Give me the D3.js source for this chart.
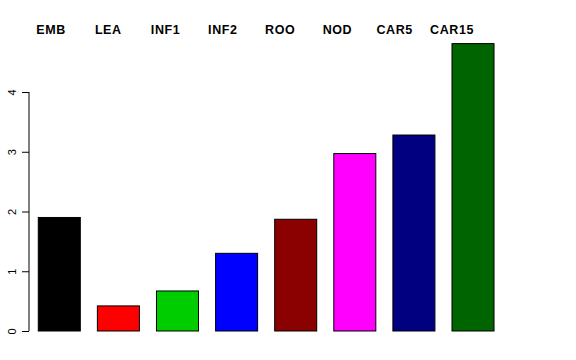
<!DOCTYPE html>
<html>
<head>
<meta charset="utf-8">
<script src="https://cdn.jsdelivr.net/npm/d3@7"></script>
<style>
  body { margin: 0; background: #fff; }
  svg text { font-family: "Liberation Sans", Arial, sans-serif; }
</style>
</head>
<body>
<div id="chart"></div>
<script>
// stages and their values
var stages = ["EMB", "LEA", "INF1", "INF2", "ROO", "NOD", "CAR5", "CAR15"];
var values = [1.90, 0.42, 0.67, 1.30, 1.87, 2.97, 3.28, 4.81];
var barColors = ["#000000", "#ff0000", "#00cd00", "#0000ff", "#8b0000", "#ff00ff", "#000080", "#006400"];
var yTicks = [0, 1, 2, 3, 4];

var width = 576, height = 360;

var svg = d3.select("#chart").append("svg")
  .attr("width", width)
  .attr("height", height);

var x = d3.scaleBand()
  .domain(stages)
  .range([29, 503.3])
  .paddingInner(0.289)
  .paddingOuter(0.157);

var y = d3.scaleLinear()
  .domain([0, 4])
  .range([331, 92]);

// labels sit on their own, slightly tighter, spacing
var xLab = d3.scalePoint()
  .domain(stages)
  .range([51, 452]);

var yAxis = d3.axisLeft(y)
  .tickValues(yTicks)
  .tickSize(7)
  .tickFormat(d3.format("d"));

var gy = svg.append("g")
  .attr("transform", "translate(29,0)")
  .call(yAxis);
gy.select(".domain").attr("d", "M0," + y(0) + "V" + y(4)).attr("stroke", "#000");
gy.selectAll(".tick line").attr("stroke", "#000");
gy.selectAll(".tick text")
  .attr("transform", "rotate(-90)")
  .attr("x", 0)
  .attr("y", -13)
  .attr("dy", "0")
  .attr("text-anchor", "middle")
  .attr("font-size", 11)
  .attr("fill", "#000");

svg.selectAll("rect.bar")
  .data(values).enter()
  .append("rect")
  .attr("class", "bar")
  .attr("x", function(d, i) { return x(stages[i]); })
  .attr("y", function(d) { return y(d); })
  .attr("width", x.bandwidth())
  .attr("height", function(d) { return y(0) - y(d); })
  .attr("fill", function(d, i) { return barColors[i]; })
  .attr("stroke", "#000")
  .attr("stroke-width", 1);

svg.selectAll(".stage-label")
  .data(stages).enter()
  .append("text")
  .attr("class", "stage-label")
  .attr("x", function(d) { return xLab(d); })
  .attr("y", 34)
  .attr("text-anchor", "middle")
  .attr("font-weight", "bold")
  .attr("font-size", 12.5)
  .attr("letter-spacing", 0.6)
  .text(function(d) { return d; });
</script>
</body>
</html>
